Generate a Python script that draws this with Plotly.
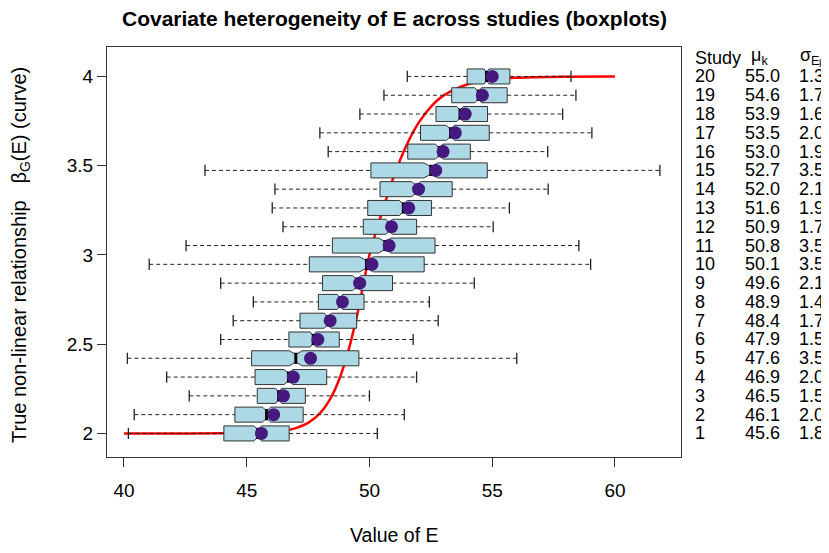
import plotly.graph_objects as go

# ---------------- data ----------------
studies = list(range(1, 21))
whisker_low = [40.18, 40.42, 42.66, 41.74, 40.14, 43.94, 44.45, 45.27, 43.94, 41.03,
               42.53, 46.48, 46.04, 46.15, 43.30, 48.32, 47.98, 49.61, 50.59, 51.54]
q1 = [44.07, 44.52, 45.43, 45.34, 45.20, 46.72, 47.17, 47.92, 48.09, 47.55,
      48.49, 49.75, 49.93, 50.43, 50.06, 51.56, 52.08, 52.71, 53.35, 53.98]
median = [45.45, 45.81, 46.30, 46.70, 47.00, 47.71, 48.30, 48.80, 49.48, 49.88,
          50.63, 50.80, 51.38, 51.90, 52.50, 52.84, 53.30, 53.69, 54.43, 54.77]
q3 = [46.73, 47.30, 47.39, 48.26, 49.57, 48.77, 49.48, 49.78, 50.94, 52.23,
      52.67, 51.92, 52.53, 53.37, 54.80, 54.11, 54.88, 54.81, 55.61, 55.72]
whisker_high = [50.32, 51.42, 50.00, 51.92, 56.00, 51.78, 52.80, 52.44, 54.27, 59.01,
                58.53, 55.04, 55.70, 57.28, 61.83, 57.26, 59.06, 57.87, 58.41, 58.21]
notch_half = [0.16, 0.17, 0.12, 0.18, 0.26, 0.12, 0.14, 0.11, 0.17, 0.28,
              0.25, 0.13, 0.16, 0.18, 0.28, 0.15, 0.17, 0.13, 0.14, 0.10]
mu = [45.6, 46.1, 46.5, 46.9, 47.6, 47.9, 48.4, 48.9, 49.6, 50.1,
      50.8, 50.9, 51.6, 52.0, 52.7, 53.0, 53.5, 53.9, 54.6, 55.0]
sigma = [1.8, 2.0, 1.5, 2.0, 3.5, 1.5, 1.7, 1.4, 2.1, 3.5,
         3.5, 1.7, 1.9, 2.1, 3.5, 1.9, 2.0, 1.6, 1.7, 1.3]

curve_E = [40, 42, 44, 45, 46, 46.5, 47, 47.5, 48, 48.5, 49, 49.5, 50,
           50.5, 51, 51.5, 52, 52.5, 53, 54, 55, 56, 58, 60]
curve_beta = [2.000, 2.000, 2.001, 2.002, 2.007, 2.014, 2.030, 2.059, 2.115, 2.218,
              2.395, 2.664, 3.000, 3.233, 3.442, 3.612, 3.740, 3.830, 3.891, 3.956,
              3.983, 3.993, 3.999, 4.000]

x_ticks = [40, 45, 50, 55, 60]
y_ticks = [2, 2.5, 3, 3.5, 4]
y_ticktext = ["2", "2.5", "3", "3.5", "4"]

# ---------------- figure ----------------
FONT = "Liberation Sans, Arial, sans-serif"
OFF = 8                      # page body margin
W, H = 821, 537
ML, MR, MT, MB = 99, 148, 39, 88
PW = W - ML - MR
PH = H - MT - MB

fig = go.Figure()

# dashed whiskers
wx, wy = [], []
for k, lo, a, b, hi in zip(studies, whisker_low, q1, q3, whisker_high):
    wx += [lo, a, None, b, hi, None]
    wy += [k, k, None, k, k, None]
fig.add_trace(go.Scatter(x=wx, y=wy, mode="lines", yaxis="y2",
                         line=dict(color="#222222", width=1, dash="4px,3px"),
                         hoverinfo="skip", showlegend=False))
# staples
fig.add_trace(go.Scatter(x=whisker_low + whisker_high, y=studies + studies, mode="markers",
                         yaxis="y2",
                         marker=dict(symbol="line-ns", size=8,
                                     line=dict(color="#222222", width=1.3)),
                         hoverinfo="skip", showlegend=False))
# notched boxes
fig.add_trace(go.Box(y=studies, q1=q1, median=median, q3=q3,
                     lowerfence=q1, upperfence=q3, notched=True, notchspan=notch_half,
                     orientation="h", yaxis="y2", width=0.8, whiskerwidth=0,
                     fillcolor="#ADD8E6", line=dict(color="#333333", width=1),
                     hoverinfo="skip", showlegend=False))
# thick median bars
fig.add_trace(go.Scatter(x=median, y=studies, mode="markers", yaxis="y2",
                         marker=dict(symbol="line-ns", size=8,
                                     line=dict(color="black", width=3)),
                         hoverinfo="skip", showlegend=False))
# true curve
fig.add_trace(go.Scatter(x=curve_E, y=curve_beta, mode="lines", line_shape="spline",
                         line=dict(color="#FF0000", width=2.5),
                         hoverinfo="skip", showlegend=False))
# means
fig.add_trace(go.Scatter(x=mu, y=studies, mode="markers", yaxis="y2",
                         marker=dict(size=13, color="#46197F"),
                         hoverinfo="skip", showlegend=False))


def px_to_paper(px):
    return (px - OFF - ML) / PW


def py_to_paper(py):
    return 1 - (py - OFF - MT) / PH


ann = []
fs = 18


def txt(text, px, y, size=fs, yref="y2", anchor="left"):
    return dict(text=text, x=px_to_paper(px), y=y, xref="paper", yref=yref,
                xanchor=anchor, yanchor="middle", showarrow=False,
                font=dict(size=size, family=FONT, color="black"))


ann.append(txt("Study", 693, 21))
ann.append(txt("μ<sub>k</sub>", 749, 21.05))
ann.append(txt("σ<sub>E</sub>", 798, 21.05))
ann.append(txt("k", 817, 20.70, size=10))
for k, m, s in zip(studies, mu, sigma):
    ann.append(txt(str(k), 693, k))
    ann.append(txt(f"{m:.1f}", 743, k))
    ann.append(txt(f"{s:.1f}", 797, k))

# axis titles
ann.append(dict(text="Value of E", x=px_to_paper(394), y=py_to_paper(535),
                xref="paper", yref="paper", xanchor="center", yanchor="middle",
                showarrow=False, font=dict(size=19.5, family=FONT, color="black")))
ann.append(dict(text="True non-linear relationship   β<sub>G</sub>(E) (curve)",
                x=px_to_paper(20), y=py_to_paper(255), xref="paper", yref="paper",
                xanchor="center", yanchor="middle", textangle=-90, showarrow=False,
                font=dict(size=20, family=FONT, color="black")))
# title
ann.append(dict(text="<b>Covariate heterogeneity of E across studies (boxplots)</b>",
                x=px_to_paper(394), y=py_to_paper(19), xref="paper", yref="paper",
                xanchor="center", yanchor="middle", showarrow=False,
                font=dict(size=21, family=FONT, color="black")))

fig.update_layout(
    width=W, height=H,
    margin=dict(l=ML, r=MR, t=MT, b=MB),
    paper_bgcolor="white", plot_bgcolor="white",
    font=dict(family=FONT, color="black"),
    xaxis=dict(range=[39.31, 62.69], tickvals=x_ticks, ticks="outside", ticklen=9,
               tickcolor="#333333", tickwidth=1, showline=True, linecolor="#333333",
               linewidth=1, mirror=True, showgrid=False, zeroline=False,
               tickfont=dict(size=19, family=FONT, color="black"),
               ticklabelstandoff=7),
    yaxis=dict(range=[1.868, 4.165], tickvals=y_ticks, ticktext=y_ticktext,
               ticks="outside", ticklen=9, tickcolor="#333333", tickwidth=1,
               showline=True, linecolor="#333333", linewidth=1, mirror=True,
               showgrid=False, zeroline=False,
               tickfont=dict(size=19, family=FONT, color="black"),
               ticklabelstandoff=0),
    yaxis2=dict(range=[-0.254, 21.5675], overlaying="y", visible=False,
                showgrid=False, zeroline=False),
    annotations=ann,
)

fig.write_html("out.html")
